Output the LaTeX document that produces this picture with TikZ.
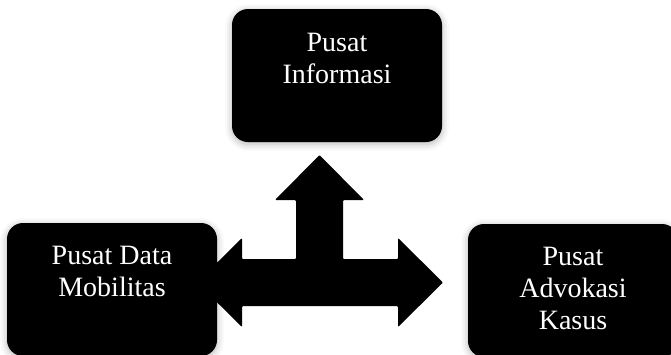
\documentclass[tikz,border=0pt]{standalone}
\usepackage{fontspec}
\setmainfont{Liberation Serif}
\usetikzlibrary{shadows.blur}

\begin{document}
\begin{tikzpicture}[x=1pt, y=-1pt,
    box style/.style={fill=black, rounded corners=16pt, minimum width=210pt,
        minimum height=133pt, inner sep=0pt,
        blur shadow={shadow xshift=0pt, shadow yshift=-2pt, shadow blur radius=7pt, shadow opacity=30}},
    label style/.style={text=white, align=center, inner sep=0pt,
        font=\fontsize{28}{32}\selectfont},
    arrow style/.style={fill=black, rounded corners=1pt},]
    \useasboundingbox (0,0) rectangle (671,354);

    % the three-way arrow
    \coordinate (left tip) at (197,282.5);
    \coordinate (up tip) at (319.5,155);
    \coordinate (right tip) at (443,282.5);

    \fill[style=arrow style] (left tip) -- (242,238) -- (242,259) -- (296,259)
        -- (296,200) -- (275,200) -- (up tip) -- (364,200) -- (343,200)
        -- (343,259) -- (398,259) -- (398,238) -- (right tip) -- (398,327)
        -- (398,306) -- (242,306) -- (242,327) -- cycle;

    % the boxes
    \node[box style] (info) at (337,75.5) {};
    \node[box style] (mobil) at (112,289.5) {};
    \node[box style] (advok) at (573,290.5) {};

    \node[label style, anchor=north] (info text) at ([yshift=-24pt]info.north) {Pusat\\Informasi};
    \node[label style, anchor=north] (mobil text) at ([yshift=-23.5pt]mobil.north) {Pusat Data\\Mobilitas};
    \node[label style, anchor=north] (advok text) at ([yshift=-23pt]advok.north) {Pusat\\Advokasi\\Kasus};

\end{tikzpicture}
\end{document}
